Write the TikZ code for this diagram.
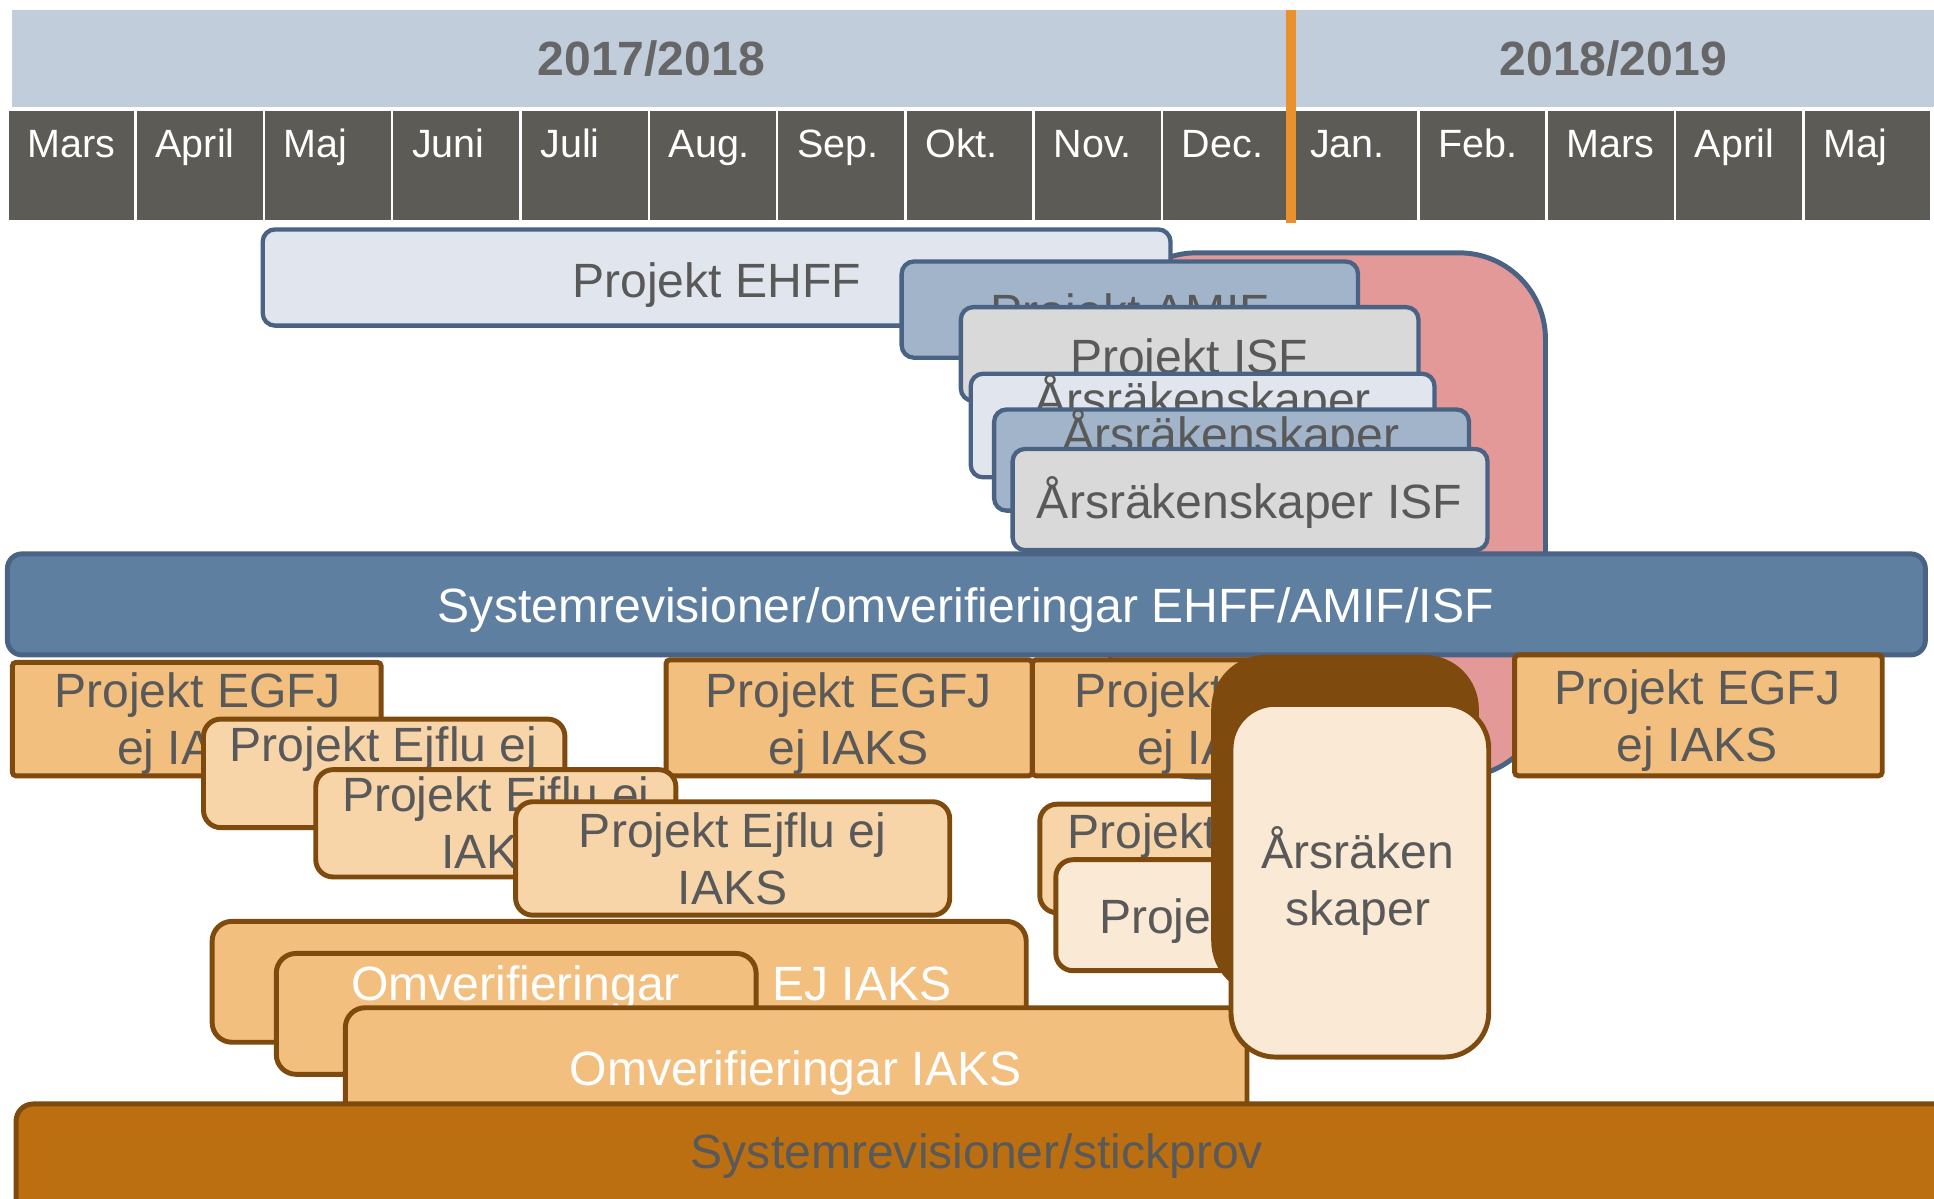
\documentclass[tikz,border=0pt]{standalone}
\usepackage{fontspec}
\setmainfont{Liberation Sans}
\definecolor{yearband}{HTML}{C1CDDB}
\definecolor{monthgray}{HTML}{5D5B56}
\definecolor{yeartext}{HTML}{666666}
\definecolor{orangeline}{HTML}{E8912D}
\definecolor{txtgray}{HTML}{595959}
\definecolor{bordblue}{HTML}{4A6283}
\definecolor{fillpale}{HTML}{E1E6EE}
\definecolor{fillsteel}{HTML}{A2B4C9}
\definecolor{fillgray}{HTML}{D9D9D9}
\definecolor{fillpink}{HTML}{E49999}
\definecolor{fillsys}{HTML}{5F7FA1}
\definecolor{bordbrown}{HTML}{7E4A0D}
\definecolor{fillegfj}{HTML}{F3BF7F}
\definecolor{fillejflu}{HTML}{F7D5A9}
\definecolor{filllight}{HTML}{FAE9D4}
\definecolor{fillstick}{HTML}{BC6F11}
\newcommand\twolines[2]{\begin{tabular}[t]{@{}c@{}}#1\\#2\end{tabular}}
\tikzset{
  sz/.style 2 args={minimum width=#1pt, minimum height=#2pt},
  box/.style={inner sep=0pt, outer sep=0pt, anchor=north west, line width=3.5pt},
  bbox/.style={box, draw=bordblue, rounded corners=10pt},
  obox/.style={box, draw=bordbrown, line width=4pt},
  lbl/.style={anchor=base, inner sep=0pt, text=txtgray, font=\fontsize{39}{46}\selectfont},
  wlbl/.style={lbl, text=white},
  yearcell/.style={box, line width=0pt, fill=yearband, text=yeartext, font=\bfseries\fontsize{39}{44}\selectfont},
  monthcell/.style={box, fill=monthgray, draw=white, line width=2pt},
  monthlbl/.style={anchor=base west, inner sep=0pt, text=white, font=\fontsize{32}{38}\selectfont},
}
\begin{document}
\begin{tikzpicture}[x=1pt, y=-1pt]
\useasboundingbox (0,0) rectangle (1568,972);
% header
\node[yearcell, sz={1036}{79}] (y1) at (10,8) {2017/2018};
\node[yearcell, sz={524}{79}] (y2) at (1046,8) {2018/2019};
\foreach \i/\m in {0/Mars,1/April,2/Maj,3/Juni,4/Juli,5/Aug.,6/Sep.,7/Okt.,8/Nov.,9/Dec.,10/Jan.,11/Feb.,12/Mars,13/April,14/Maj}{
  \node[monthcell, sz={104}{90}] (m\i) at ({6+104*\i},89) {};
  \node[monthlbl] (mt\i) at ({22+104*\i},128) {\m};
}
\coordinate (otop) at (1047,8);
\coordinate (obot) at (1047,181);
\draw[orangeline, line width=8pt] (otop) -- (obot);
% upper blue group
\node[bbox, fill=fillpink, line width=4pt, rounded corners=70pt, sz={353}{425}] (pink) at (900,205) {};
\node[bbox, fill=fillpale, sz={736}{78}] (ehff) at (213,186) {};
\node[lbl] (ehfft) at (581,241) {Projekt EHFF};
\node[bbox, fill=fillsteel, sz={370}{78}] (amif) at (731,212) {};
\node[lbl] (amift) at (916,266) {Projekt AMIF};
\node[bbox, fill=fillgray, sz={371}{76}] (isf) at (779,249) {};
\node[lbl] (isft) at (964,303) {Projekt ISF};
\node[bbox, fill=fillpale, sz={376}{84}] (ars1) at (787,303) {};
\node[lbl] (ars1t) at (975,338) {Årsräkenskaper};
\node[bbox, fill=fillsteel, sz={385}{82}] (ars2) at (806,332) {};
\node[lbl] (ars2t) at (998,366) {Årsräkenskaper};
\node[bbox, fill=fillgray, sz={385}{82}] (arsisf) at (821,364) {};
\node[lbl] (arsisft) at (1013,420) {Årsräkenskaper ISF};
\node[bbox, fill=fillsys, line width=4pt, rounded corners=12pt, sz={1555}{82}] (sys) at (6,449) {};
\node[wlbl] (syst) at (783,505) {Systemrevisioner/omverifieringar EHFF/AMIF/ISF};
% lower brown group
\node[obox, fill=fillegfj, rounded corners=3pt, sz={299}{92}] (egfj1) at (10,537) {};
\node[lbl] (egfj1t) at (160,574) {\twolines{Projekt EGFJ}{ej IAKS}};
\node[obox, fill=fillegfj, rounded corners=3pt, sz={297}{94}] (egfj2) at (540,535) {};
\node[lbl] (egfj2t) at (688,574) {\twolines{Projekt EGFJ}{ej IAKS}};
\node[obox, fill=fillegfj, rounded corners=3pt, sz={300}{94}] (egfj3) at (837,535) {};
\node[lbl] (egfj3t) at (987,574) {\twolines{Projekt EGFJ}{ej IAKS}};
\node[obox, fill=fillejflu, rounded corners=14pt, sz={293}{88}] (ejflu1) at (165,583) {};
\node[lbl] (ejflu1t) at (311,617) {\twolines{Projekt Ejflu ej}{IAKS}};
\node[obox, fill=fillejflu, rounded corners=14pt, sz={292}{87}] (ejflu2) at (256,624) {};
\node[lbl] (ejflu2t) at (402,658) {\twolines{Projekt Ejflu ej}{IAKS}};
\node[obox, fill=fillejflu, rounded corners=14pt, sz={352}{92}] (ejflu3) at (418,650) {};
\node[lbl] (ejflu3t) at (594,687) {\twolines{Projekt Ejflu ej}{IAKS}};
\node[obox, fill=fillejflu, rounded corners=14pt, sz={294}{88}] (ejflu4) at (843,652) {};
\node[lbl] (ejflu4t) at (990,688) {\twolines{Projekt Ejflu ej}{IAKS}};
\node[obox, fill=filllight, rounded corners=14pt, sz={302}{90}] (proj5) at (856,697) {};
\node[lbl] (proj5t) at (1007,757) {Projekt EGFJ};
\node[obox, fill=fillegfj, rounded corners=16pt, sz={660}{98}] (omej) at (172,747) {};
\node[wlbl] (omejt) at (560,811) {Omverifieringar EJ IAKS};
\node[obox, fill=fillegfj, rounded corners=16pt, sz={389}{98}] (om2) at (224,773) {};
\node[wlbl] (om2t) at (418,811) {\twolines{Omverifieringar}{EJ IAKS}};
\node[obox, fill=fillegfj, rounded corners=16pt, sz={731}{120}] (omiaks) at (280,817) {};
\node[wlbl] (omiakst) at (645,880) {Omverifieringar IAKS};
\node[obox, fill=bordbrown, rounded corners=42pt, sz={213}{272}] (dark) at (984,533) {};
\node[obox, fill=filllight, rounded corners=36pt, sz={209}{286}] (arsl) at (998,571) {};
\node[lbl] (arslt) at (1101,704) {\twolines{Årsräken}{skaper}};
\node[obox, fill=fillstick, rounded corners=14pt, sz={1580}{110}] (stick) at (13,895) {};
\node[lbl] (stickt) at (792,947) {Systemrevisioner/stickprov};
\node[obox, fill=fillegfj, rounded corners=3pt, sz={298}{98}] (egfj4) at (1228,531) {};
\node[lbl] (egfj4t) at (1376,571) {\twolines{Projekt EGFJ}{ej IAKS}};
\end{tikzpicture}
\end{document}
